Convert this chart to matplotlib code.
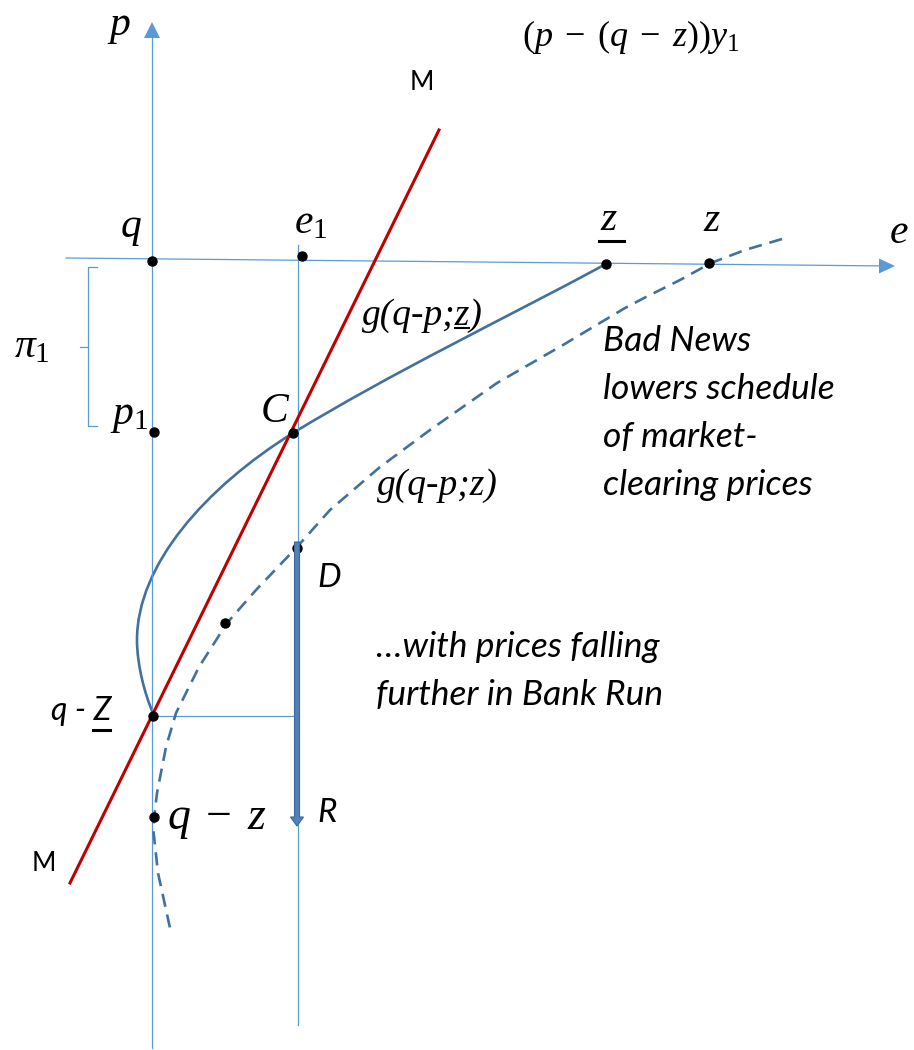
import matplotlib
matplotlib.use("Agg")
import matplotlib.pyplot as plt
from matplotlib.path import Path
from matplotlib.patches import PathPatch

plt.rcParams['mathtext.fontset'] = 'custom'
plt.rcParams['mathtext.rm'] = 'Liberation Serif'
plt.rcParams['mathtext.it'] = 'Liberation Serif:italic'

# colours
AXIS_C = '#5B9BD5'
CURVE_C = '#41719C'
RED_C = '#C00000'

# diagram points (picture pixels, y pointing down)
p_axis_x = [152, 152]
p_axis_y = [1048, 22]
e_axis_x = [66, 895]
e_axis_y = [258, 266]
e1_line_x = [298, 298]
e1_line_y = [245, 1025]
hline_x = [152, 296]
hline_y = [716, 716]

# M line
m_x = [70, 439]
m_y = [883, 130]

# g(q-p; z_) solid schedule, bezier control points (z_ -> C -> turn -> q-z_)
solid_x = [606, 502, 393, 293, 205, 137, 137, 137, 145, 153]
solid_y = [264, 320, 372, 433, 488, 565, 640, 665, 695, 713]

# g(q-p; z) dashed schedule after bad news
dash_x = [782, 745, 711, 680, 644, 625, 563, 497, 430, 380, 330, 297, 256, 227, 199, 176, 166, 157, 153, 158, 170]
dash_y = [239, 250, 263, 280, 298, 308, 345, 383, 430, 467, 510, 547, 590, 623, 667, 713, 747, 793, 827, 873, 928]

# marked points
dot_x = [152, 302, 606, 709, 154, 293, 153, 225, 154, 297]
dot_y = [261, 256, 264, 263, 432, 433, 716, 623, 817, 548]

# bank run drop D -> R
run_x = 297
run_top = 542
run_bottom = 826

fig = plt.figure(figsize=(9.14, 10.5), dpi=100)
ax = fig.add_axes([0, 0, 1, 1])
ax.set_xlim(0, 914)
ax.set_ylim(1050, 0)
ax.axis('off')
renderer = fig.canvas.get_renderer()


def text_w(s, **kw):
    # width in pixels (= data units here) of a piece of text
    t = ax.text(0, 0, s, **kw)
    w = t.get_window_extent(renderer).width
    t.remove()
    return w


def underlined(x, y, s, under, dy, lw, **kw):
    # draw s and put a bar under the last occurrence of `under`
    tail = s[s.rindex(under) + len(under):]
    ax.text(x, y, s, **kw)
    w_full = text_w(s, **kw)
    w_tail = text_w(tail, **kw) if tail else 0
    w_u = text_w(under, **kw)
    x1 = x + w_full - w_tail
    ax.plot([x1 - w_u - 1, x1 - 1], [y + dy, y + dy], color='black', lw=lw)


# axes with arrow heads
ax.plot(p_axis_x, [p_axis_y[0], p_axis_y[1] + 14], color=AXIS_C, lw=0.9)
ax.arrow(p_axis_x[0], p_axis_y[1] + 16, 0, -16, width=0.1, head_width=16, head_length=16,
         length_includes_head=True, fc=AXIS_C, ec=AXIS_C, lw=0)
ax.plot([e_axis_x[0], e_axis_x[1] - 14], [e_axis_y[0], e_axis_y[1] - 0.1], color=AXIS_C, lw=0.9)
ax.arrow(e_axis_x[1] - 16, e_axis_y[1], 16, 0, width=0.1, head_width=15, head_length=16,
         length_includes_head=True, fc=AXIS_C, ec=AXIS_C, lw=0)
ax.plot(e1_line_x, e1_line_y, color=AXIS_C, lw=0.9)
ax.plot(hline_x, hline_y, color=AXIS_C, lw=0.9)

# brace for pi_1
ax.plot([97, 88, 88, 97], [267, 267, 426, 426], color=AXIS_C, lw=0.9)
ax.plot([80, 88], [347, 347], color=AXIS_C, lw=0.9)

# schedules and M line
codes = [Path.MOVETO] + [Path.CURVE4] * (len(solid_x) - 1)
solid_path = Path(list(zip(solid_x, solid_y)), codes)
ax.add_patch(PathPatch(solid_path, fill=False, ec=CURVE_C, lw=1.9))
ax.plot(dash_x, dash_y, color=CURVE_C, lw=1.9, dashes=(5, 3))
ax.plot(m_x, m_y, color=RED_C, lw=2.2)

ax.plot(dot_x, dot_y, 'o', color='black', ms=6.5, zorder=4)

ax.arrow(run_x, run_top, 0, run_bottom - run_top, width=5, head_width=13, head_length=9,
         length_includes_head=True, fc='#4F81BD', ec='#3B679A', lw=0.8, zorder=5)

MATH = 30
tx = dict(color='black', va='baseline', ha='left')
ax.text(107, 35, r'$p$', fontsize=MATH, **tx)
ax.text(522, 46, r'$(p\;-\;(q\;-\;z))y_1$', fontsize=26, **tx)
ax.text(120, 237, r'$q$', fontsize=MATH, **tx)
ax.text(294, 233, r'$e_1$', fontsize=MATH, **tx)
ax.text(600, 230, r'$z$', fontsize=MATH, **tx)
ax.plot([599, 624], [241, 241], color='black', lw=2.2)
ax.text(703, 231, r'$z$', fontsize=MATH, **tx)
ax.text(889, 243, r'$e$', fontsize=MATH, **tx)
ax.text(14, 357, r'$\pi_1$', fontsize=MATH, **tx)
ax.text(110, 424, r'$p_1$', fontsize=MATH, **tx)
ax.text(260, 422, r'$C$', fontsize=MATH, **tx)
ax.text(167, 829, r'$q\;-\;z$', fontsize=33, **tx)

serif_it = dict(fontsize=27, family='Liberation Serif', style='italic', **tx)
underlined(362, 325, 'g(q-p;z)', 'z', 3, 1.5, **serif_it)
ax.text(377, 495, 'g(q-p;z)', **serif_it)

SANS = 'Lato'
ax.text(410, 90, 'M', fontsize=19, family=SANS, **tx)
ax.text(32, 871, 'M', fontsize=19, family=SANS, **tx)
underlined(51, 720, 'q - Z', 'Z', 10, 2.2, fontsize=23, family=SANS, style='italic', **tx)
ax.text(317, 587, 'D', fontsize=24, family=SANS, style='italic', **tx)
ax.text(317, 822, 'R', fontsize=24, family=SANS, style='italic', **tx)

news_lines = ['Bad News', 'lowers schedule', 'of market-', 'clearing prices']
for i, line in enumerate(news_lines):
    ax.text(603, 351 + 48 * i, line, fontsize=25.5, family=SANS, style='italic', **tx)
run_lines = ['\u2026with prices falling', 'further in Bank Run']
for i, line in enumerate(run_lines):
    ax.text(376, 657 + 48 * i, line, fontsize=25.5, family=SANS, style='italic', **tx)

fig.savefig('out.png', dpi=100)
